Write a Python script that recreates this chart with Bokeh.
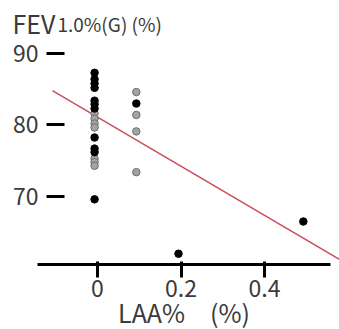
from bokeh.plotting import figure
from bokeh.models import FixedTicker, NumeralTickFormatter, Range1d, Label
from bokeh.embed import file_html
from bokeh.resources import INLINE

# data
x_black = [-0.007] * 11 + [0.093, 0.194, 0.493]
y_black = [87.3, 86.4, 85.8, 85.2, 83.4, 82.9, 82.3, 78.25, 76.7, 76.2, 69.6, 83.0, 62.0, 66.5]
x_gray = [-0.007] * 7 + [0.093] * 4
y_gray = [81.6, 80.9, 80.2, 79.65, 75.3, 74.8, 74.3, 84.6, 81.4, 79.1, 73.4]
reg_x = [-0.108, 0.60]
reg_y = [84.8, 60.5]
x_ticks = [0, 0.2, 0.4]
y_ticks = [70, 80, 90]

FONT = "Noto Sans CJK JP"
TXT = "#3a3a3a"

p = figure(width=339, height=329, output_backend="svg", toolbar_location=None,
           x_range=Range1d(-0.2323, 0.5796), y_range=Range1d(51.40, 97.41),
           min_border_left=0, min_border_right=0, min_border_top=0, min_border_bottom=0)
p.outline_line_color = None
p.grid.visible = False
p.background_fill_color = "white"

p.line(reg_x, reg_y, line_color="#c9505c", line_width=1.5)
p.scatter(x_gray, y_gray, size=7.5, fill_color="#a3a3a3", line_color="#6e6e6e", line_width=1)
p.scatter(x_black, y_black, size=7.5, fill_color="black", line_color="black")

xa = p.xaxis[0]
xa.fixed_location = 60.49
xa.ticker = FixedTicker(ticks=x_ticks)
xa.formatter = NumeralTickFormatter(format="0.[0]")
xa.bounds = (-0.144, 0.558)
xa.axis_line_width = 3
xa.axis_line_color = "black"
xa.major_tick_line_width = 3
xa.major_tick_in = 3
xa.major_tick_out = 13
xa.minor_tick_line_color = None
xa.major_label_text_font = FONT
xa.major_label_text_font_size = "23px"
xa.major_label_text_color = TXT
xa.major_label_standoff = 2
xa.axis_label = "LAA%\u3000(%)"
xa.axis_label_text_font = FONT
xa.axis_label_text_font_size = "25px"
xa.axis_label_text_font_style = "normal"
xa.axis_label_text_color = TXT
xa.axis_label_standoff = -6

ya = p.yaxis[0]
ya.fixed_location = -0.1222
ya.ticker = FixedTicker(ticks=y_ticks)
ya.axis_line_color = None
ya.major_tick_line_width = 3
ya.major_tick_in = 18
ya.major_tick_out = 0
ya.minor_tick_line_color = None
ya.major_label_text_font = FONT
ya.major_label_text_font_size = "23px"
ya.major_label_text_color = TXT
ya.major_label_standoff = 8

p.add_layout(Label(x=-0.2036, y=94.2, text="FEV", text_font=FONT, text_font_size="25px",
                   text_color=TXT, text_baseline="alphabetic"))
p.add_layout(Label(x=-0.0958, y=94.2, text="1.0%(G) (%)", text_font=FONT, text_font_size="19px",
                   text_color=TXT, text_baseline="alphabetic"))

open("out.html", "w").write(file_html(p, INLINE))
